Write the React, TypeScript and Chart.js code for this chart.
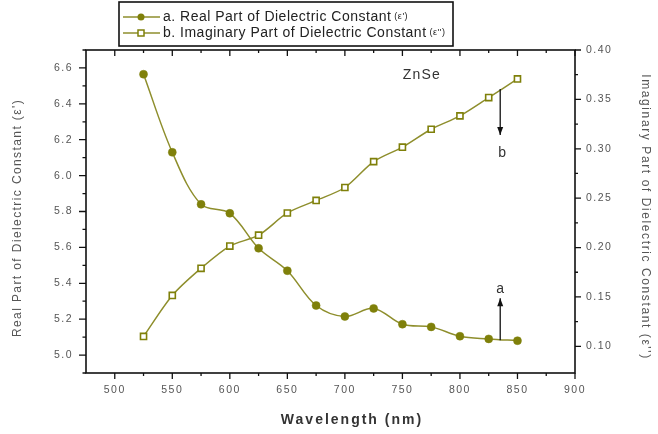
import React, { useEffect, useRef } from "react";
import { Chart, registerables } from "chart.js";

Chart.register(...registerables);

const wavelengths = [525, 550, 575, 600, 625, 650, 675, 700, 725, 750, 775, 800, 825, 850];
const realPart = [6.565, 6.13, 5.84, 5.79, 5.595, 5.47, 5.276, 5.215, 5.26, 5.172, 5.157, 5.105, 5.09, 5.08];
const imagPart = [0.11, 0.1515, 0.179, 0.2015, 0.2125, 0.235, 0.2477, 0.2608, 0.287, 0.3016, 0.3198, 0.3333, 0.3518, 0.3707];

const xTicks = [500, 550, 600, 650, 700, 750, 800, 850, 900];
const xMinorTicks = [525, 575, 625, 675, 725, 775, 825, 875];
const yTicks = [5.0, 5.2, 5.4, 5.6, 5.8, 6.0, 6.2, 6.4, 6.6];
const yMinorTicks = [4.9, 5.1, 5.3, 5.5, 5.7, 5.9, 6.1, 6.3, 6.5, 6.7];
const y1Ticks = [0.1, 0.15, 0.2, 0.25, 0.3, 0.35, 0.4];
const y1MinorTicks = [0.125, 0.175, 0.225, 0.275, 0.325, 0.375];

const legendLabels = ["a. Real Part of Dielectric Constant", "b. Imaginary Part of Dielectric Constant"];
const legendSuffix = ["(\u03b5')", "(\u03b5'')"];
const xTitle = "Wavelength (nm)";
const yTitle = "Real Part of Dielectric Constant (\u03b5')";
const y1Title = "Imaginary Part of Dielectric Constant (\u03b5'')";
const sampleLabel = "ZnSe";
const sampleAt = { x: 767, y: 6.56 };
const arrowA = { x: 835, from: 5.083, to: 5.317, label: "a", labelY: 5.37 };
const arrowB = { x: 835, from: 0.3606, to: 0.314, label: "b", labelY: 0.296 };

const OLIVE = "#7f800a";
const LINE = "#8e8e2c";
const FONT = "'Liberation Sans', Arial, sans-serif";

const customPlugin = {
  id: "custom",
  beforeDraw(chart: any) {
    (chart.ctx as any).letterSpacing = "1.5px";
  },
  afterDraw(chart: any) {
    const ctx = chart.ctx as CanvasRenderingContext2D;
    const c = ctx as any;
    const { left, right, top, bottom } = chart.chartArea;
    const xs = chart.scales.x;
    const ys = chart.scales.y;
    const y1 = chart.scales.y1;
    ctx.save();
    c.letterSpacing = "0px";
    // frame
    ctx.strokeStyle = "#111";
    ctx.lineWidth = 1.6;
    ctx.strokeRect(left, top, right - left, bottom - top);
    ctx.lineWidth = 1.3;
    ctx.beginPath();
    const tick = (x0: number, y0: number, x1: number, y1p: number) => {
      ctx.moveTo(x0, y0);
      ctx.lineTo(x1, y1p);
    };
    xTicks.forEach((v) => {
      const p = xs.getPixelForValue(v);
      tick(p, bottom, p, bottom + 6);
      tick(p, top, p, top + 6);
    });
    xMinorTicks.forEach((v) => {
      const p = xs.getPixelForValue(v);
      tick(p, bottom, p, bottom + 3);
      tick(p, top, p, top + 3);
    });
    yTicks.forEach((v) => {
      const p = ys.getPixelForValue(v);
      tick(left, p, left - 7, p);
    });
    yMinorTicks.forEach((v) => {
      const p = ys.getPixelForValue(v);
      if (p >= top && p <= bottom) tick(left, p, left - 3.5, p);
    });
    y1Ticks.forEach((v) => {
      const p = y1.getPixelForValue(v);
      tick(right, p, right + 6, p);
    });
    y1MinorTicks.forEach((v) => {
      const p = y1.getPixelForValue(v);
      tick(right, p, right + 3, p);
    });
    ctx.stroke();

    // axis titles
    ctx.fillStyle = "#555";
    ctx.textAlign = "center";
    ctx.textBaseline = "middle";
    ctx.font = `12px ${FONT}`;
    ctx.save();
    c.letterSpacing = "1.4px";
    ctx.translate(18, 218);
    ctx.rotate(-Math.PI / 2);
    ctx.fillText(yTitle, 0, 0);
    ctx.restore();
    ctx.save();
    c.letterSpacing = "1.6px";
    ctx.translate(645, 217);
    ctx.rotate(Math.PI / 2);
    ctx.fillText(y1Title, 0, 0);
    ctx.restore();
    ctx.fillStyle = "#333";
    ctx.font = `bold 14px ${FONT}`;
    c.letterSpacing = "2px";
    ctx.fillText(xTitle, 352, 420);

    // annotations
    ctx.fillStyle = "#333";
    ctx.font = `14px ${FONT}`;
    c.letterSpacing = "1.2px";
    ctx.fillText(sampleLabel, xs.getPixelForValue(sampleAt.x), ys.getPixelForValue(sampleAt.y));
    c.letterSpacing = "0px";
    const arrow = (x: number, yFrom: number, yTo: number) => {
      ctx.strokeStyle = "#111";
      ctx.fillStyle = "#111";
      ctx.lineWidth = 1.3;
      ctx.beginPath();
      ctx.moveTo(x, yFrom);
      ctx.lineTo(x, yTo);
      ctx.stroke();
      const dir = yTo > yFrom ? 1 : -1;
      ctx.beginPath();
      ctx.moveTo(x, yTo);
      ctx.lineTo(x - 3, yTo - dir * 8);
      ctx.lineTo(x + 3, yTo - dir * 8);
      ctx.closePath();
      ctx.fill();
    };
    const ax = xs.getPixelForValue(arrowA.x);
    arrow(ax, ys.getPixelForValue(arrowA.from), ys.getPixelForValue(arrowA.to));
    const bx = xs.getPixelForValue(arrowB.x);
    arrow(bx, y1.getPixelForValue(arrowB.from), y1.getPixelForValue(arrowB.to));
    ctx.fillStyle = "#333";
    ctx.font = `14px ${FONT}`;
    ctx.fillText(arrowA.label, ax, ys.getPixelForValue(arrowA.labelY));
    ctx.fillText(arrowB.label, bx + 2, y1.getPixelForValue(arrowB.labelY));

    // legend
    const lx = 119, ly = 2, lw = 334, lh = 44;
    ctx.fillStyle = "#fff";
    ctx.fillRect(lx, ly, lw, lh);
    ctx.strokeStyle = "#111";
    ctx.lineWidth = 1.6;
    ctx.strokeRect(lx, ly, lw, lh);
    const rows = [17, 33];
    rows.forEach((ry, i) => {
      ctx.strokeStyle = LINE;
      ctx.lineWidth = 1.5;
      ctx.beginPath();
      ctx.moveTo(123, ry);
      ctx.lineTo(160, ry);
      ctx.stroke();
      if (i === 0) {
        ctx.fillStyle = OLIVE;
        ctx.beginPath();
        ctx.arc(141, ry, 3.5, 0, Math.PI * 2);
        ctx.fill();
      } else {
        ctx.fillStyle = "#fff";
        ctx.fillRect(138, ry - 3, 6, 6);
        ctx.strokeStyle = OLIVE;
        ctx.strokeRect(138, ry - 3, 6, 6);
      }
      ctx.fillStyle = "#222";
      ctx.textAlign = "left";
      ctx.font = `14px ${FONT}`;
      c.letterSpacing = "0.5px";
      ctx.fillText(legendLabels[i], 163, ry);
      const w = ctx.measureText(legendLabels[i]).width;
      ctx.font = `9px ${FONT}`;
      c.letterSpacing = "0.5px";
      ctx.fillText(legendSuffix[i], 163 + w + 3, ry);
    });
    c.letterSpacing = "0px";
    ctx.restore();
    c.letterSpacing = "0px";
  },
};

export default function App() {
  const ref = useRef<HTMLCanvasElement | null>(null);
  useEffect(() => {
    document.body.style.margin = "0";
    const canvas = ref.current;
    if (!canvas) return;
    const tickFont = { size: 10.5, family: FONT };
    const chart = new Chart(canvas, {
      type: "line",
      data: {
        datasets: [
          {
            label: legendLabels[0],
            data: wavelengths.map((w, i) => ({ x: w, y: realPart[i] })),
            yAxisID: "y",
            borderColor: LINE,
            backgroundColor: OLIVE,
            pointBackgroundColor: OLIVE,
            pointBorderColor: OLIVE,
            pointBorderWidth: 0.5,
            pointStyle: "circle",
            pointRadius: 4,
            borderWidth: 1.5,
            tension: 0.35,
          },
          {
            label: legendLabels[1],
            data: wavelengths.map((w, i) => ({ x: w, y: imagPart[i] })),
            yAxisID: "y1",
            borderColor: LINE,
            backgroundColor: "#fff",
            pointBackgroundColor: "#fff",
            pointBorderColor: OLIVE,
            pointBorderWidth: 1.6,
            pointStyle: "rect",
            pointRadius: 4.3,
            borderWidth: 1.5,
            tension: 0.3,
          },
        ],
      },
      options: {
        responsive: false,
        animation: false,
        devicePixelRatio: 1,
        layout: { padding: { top: 50, left: 0, right: 0, bottom: 0 } },
        plugins: { legend: { display: false }, tooltip: { enabled: false } },
        scales: {
          x: {
            type: "linear",
            min: 475,
            max: 900,
            grid: { display: false, drawTicks: false },
            border: { display: false },
            afterBuildTicks: (s: any) => {
              s.ticks = xTicks.map((v) => ({ value: v }));
            },
            afterFit: (s: any) => {
              s.height = 61;
            },
            ticks: {
              padding: 11,
              color: "#555",
              font: tickFont,
              callback: (v: any) => String(v),
            },
          },
          y: {
            type: "linear",
            position: "left",
            min: 4.9,
            max: 6.7,
            grid: { display: false, drawTicks: false },
            border: { display: false },
            afterBuildTicks: (s: any) => {
              s.ticks = yTicks.map((v) => ({ value: v }));
            },
            afterFit: (s: any) => {
              s.width = 86;
            },
            ticks: {
              padding: 13,
              color: "#555",
              font: tickFont,
              callback: (v: any) => Number(v).toFixed(1),
            },
          },
          y1: {
            type: "linear",
            position: "right",
            min: 0.073,
            max: 0.4,
            grid: { display: false, drawTicks: false },
            border: { display: false },
            afterBuildTicks: (s: any) => {
              s.ticks = y1Ticks.map((v) => ({ value: v }));
            },
            afterFit: (s: any) => {
              s.width = 83;
            },
            ticks: {
              padding: 11,
              color: "#555",
              font: tickFont,
              callback: (v: any) => Number(v).toFixed(2),
            },
          },
        },
      },
      plugins: [customPlugin],
    });
    return () => chart.destroy();
  }, []);
  return (
    <div style={{ width: 658, height: 434 }}>
      <canvas ref={ref} width={658} height={434} style={{ display: "block" }} />
    </div>
  );
}
